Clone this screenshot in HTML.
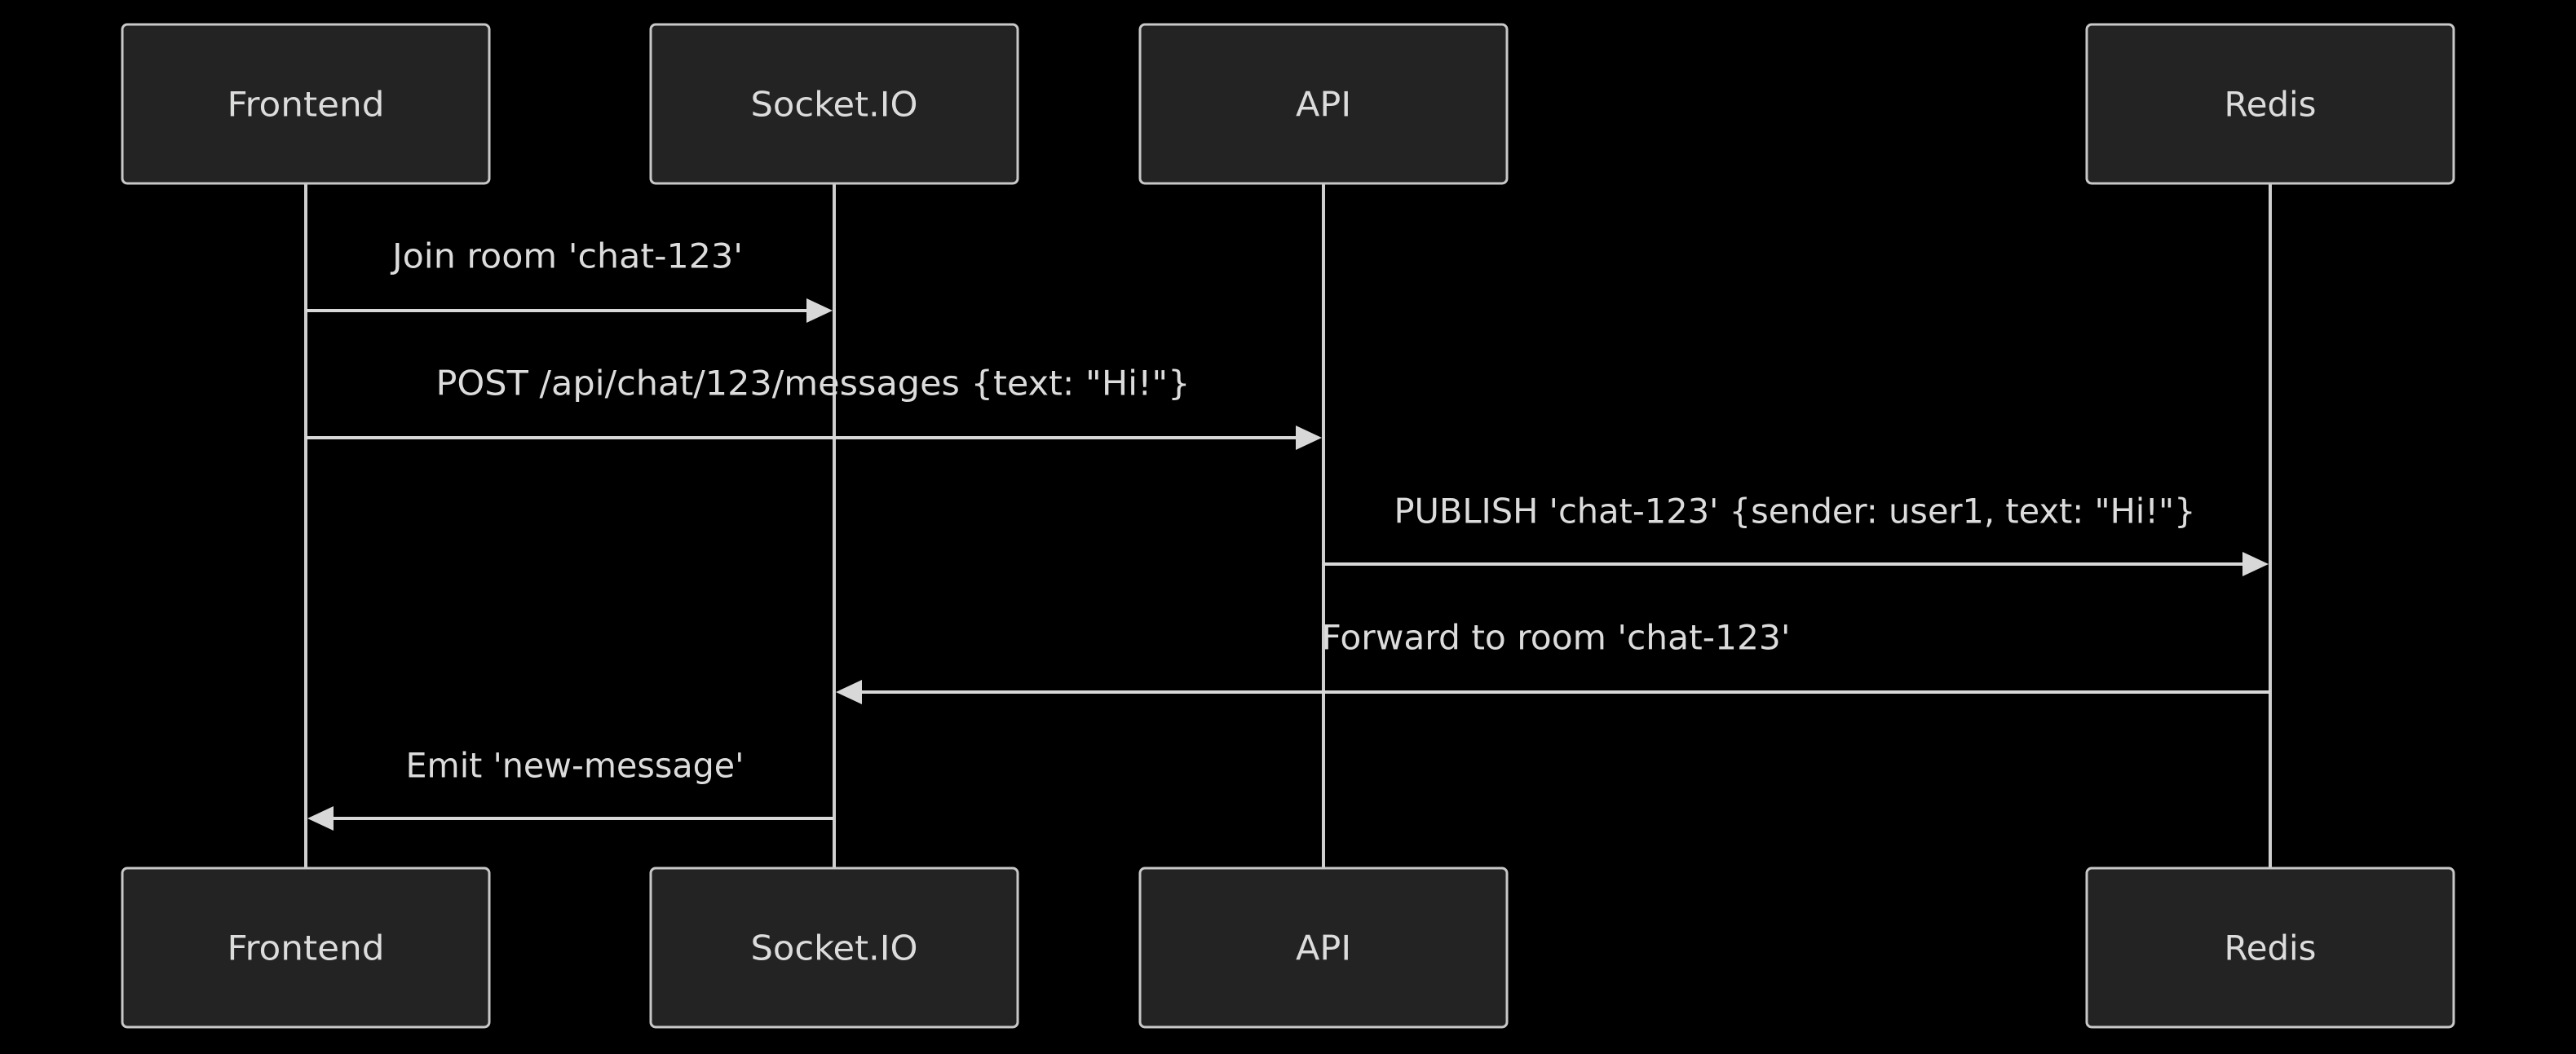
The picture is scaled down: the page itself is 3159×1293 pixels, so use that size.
<!DOCTYPE html>
<html><head><meta charset="utf-8"><style>
html,body{margin:0;padding:0;background:#000;}
svg{display:block;}
text{font-family:"DejaVu Sans","Liberation Sans",sans-serif;fill:#dcdcdc;font-size:42px;text-anchor:middle;dominant-baseline:central;}
</style></head><body>
<svg width="3159" height="1293" viewBox="0 0 3159 1293" xmlns="http://www.w3.org/2000/svg">
<rect width="3159" height="1293" fill="#000"/>
<g stroke="#cfcfcf" stroke-width="4">
<line x1="375" y1="226" x2="375" y2="1064"/>
<line x1="1023" y1="226" x2="1023" y2="1064"/>
<line x1="1623" y1="226" x2="1623" y2="1064"/>
<line x1="2784" y1="226" x2="2784" y2="1064"/>
</g>
<g fill="#222322" stroke="#c8c8c8" stroke-width="3">
<rect x="150" y="30" width="450" height="195" rx="6"/>
<rect x="798" y="30" width="450" height="195" rx="6"/>
<rect x="1398" y="30" width="450" height="195" rx="6"/>
<rect x="2559" y="30" width="450" height="195" rx="6"/>
<rect x="150" y="1065" width="450" height="195" rx="6"/>
<rect x="798" y="1065" width="450" height="195" rx="6"/>
<rect x="1398" y="1065" width="450" height="195" rx="6"/>
<rect x="2559" y="1065" width="450" height="195" rx="6"/>
</g>
<text x="375" y="128" textLength="193" lengthAdjust="spacingAndGlyphs">Frontend</text>
<text x="1023" y="128" textLength="205" lengthAdjust="spacingAndGlyphs">Socket.IO</text>
<text x="1623" y="128" textLength="68" lengthAdjust="spacingAndGlyphs">API</text>
<text x="2784" y="128" textLength="113" lengthAdjust="spacingAndGlyphs">Redis</text>
<text x="375" y="1163" textLength="193" lengthAdjust="spacingAndGlyphs">Frontend</text>
<text x="1023" y="1163" textLength="205" lengthAdjust="spacingAndGlyphs">Socket.IO</text>
<text x="1623" y="1163" textLength="68" lengthAdjust="spacingAndGlyphs">API</text>
<text x="2784" y="1163" textLength="113" lengthAdjust="spacingAndGlyphs">Redis</text>
<g stroke="#d8d8d8" stroke-width="4">
<line x1="375" y1="381" x2="995" y2="381"/>
<line x1="375" y1="537" x2="1595" y2="537"/>
<line x1="1623" y1="692" x2="2756" y2="692"/>
<line x1="2784" y1="849" x2="1051" y2="849"/>
<line x1="1023" y1="1004" x2="403" y2="1004"/>
</g>
<g fill="#d8d8d8">
<polygon points="1021,381 989,366 989,396"/>
<polygon points="1621,537 1589,522 1589,552"/>
<polygon points="2782,692 2750,677 2750,707"/>
<polygon points="1025,849 1057,834 1057,864"/>
<polygon points="377,1004 409,989 409,1019"/>
</g>
<text x="696" y="314" textLength="430" lengthAdjust="spacingAndGlyphs">Join room 'chat-123'</text>
<text x="997" y="470" textLength="925" lengthAdjust="spacingAndGlyphs">POST /api/chat/123/messages {text: "Hi!"}</text>
<text x="2201" y="627" textLength="983" lengthAdjust="spacingAndGlyphs">PUBLISH 'chat-123' {sender: user1, text: "Hi!"}</text>
<text x="1908" y="782" textLength="575" lengthAdjust="spacingAndGlyphs">Forward to room 'chat-123'</text>
<text x="705" y="939" textLength="415" lengthAdjust="spacingAndGlyphs">Emit 'new-message'</text>
</svg>
</body></html>
